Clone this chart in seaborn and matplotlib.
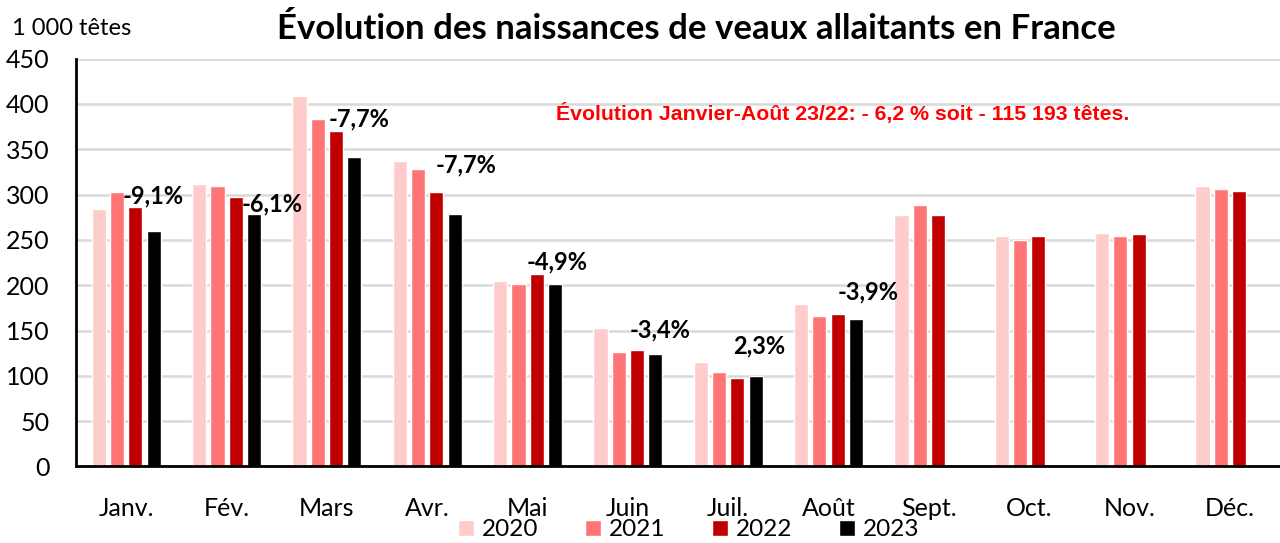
import numpy as np
import pandas as pd
import matplotlib
matplotlib.use('Agg')
import matplotlib.pyplot as plt
import seaborn as sns

# Données (1 000 têtes)
mois = ['Janv.', 'Fév.', 'Mars', 'Avr.', 'Mai', 'Juin', 'Juil.', 'Août', 'Sept.', 'Oct.', 'Nov.', 'Déc.']
annees = ['2020', '2021', '2022', '2023']
v2020 = [284, 312, 409, 337, 205, 153, 115, 179, 277, 254, 258, 309]
v2021 = [303, 310, 383, 328, 201, 126, 104, 166, 288, 250, 254, 306]
v2022 = [286, 297, 370, 303, 212, 129, 98, 168, 277, 254, 256, 304]
v2023 = [260, 279, 341, 279, 201, 124, 100, 163, np.nan, np.nan, np.nan, np.nan]
variations = ['-9,1%', '-6,1%', '-7,7%', '-7,7%', '-4,9%', '-3,4%', '2,3%', '-3,9%']

# placement des étiquettes de variation
hauteur_etiq = [299, 290, 383, 333, 226, 151, 133, 193]
decal_etiq = [0.27, 0.45, 0.32, 0.39, 0.30, 0.32, 0.31, 0.39]

couleurs = ['#FFCCCC', '#FF7575', '#C00000', '#000000']

df = pd.DataFrame({
    'MOIS': mois * 4,
    'ANNEE': np.repeat(annees, len(mois)),
    'VALEUR': v2020 + v2021 + v2022 + v2023,
})

sns.set_theme(style="white")
plt.rcParams['font.family'] = ['Lato', 'DejaVu Sans']
plt.rcParams['text.color'] = 'black'
plt.rcParams['xtick.color'] = 'black'
plt.rcParams['ytick.color'] = 'black'

fig = plt.figure(figsize=(12.8, 5.43), dpi=100)
ax = fig.add_axes([0.0594, 0.141, 0.9406, 0.751])

sns.barplot(data=df, x='MOIS', y='VALEUR', hue='ANNEE', order=mois, hue_order=annees,
            palette=couleurs, width=0.73, gap=0.22, saturation=1, ax=ax, errorbar=None)

ax.set_ylim(0, 450)
ax.set_xlim(-0.5, 11.5)
ax.set_yticks(range(0, 451, 50))
ax.set_xlabel('')
ax.set_ylabel('')
ax.grid(axis='y', color='#D9D9D9', linewidth=1.8)
ax.set_axisbelow(True)
for s in ['top', 'right']:
    ax.spines[s].set_visible(False)
for s in ['left', 'bottom']:
    ax.spines[s].set_color('black')
    ax.spines[s].set_linewidth(2)

# ticks x entre les catégories
ax.set_xticks(np.arange(-0.5, 12, 1), minor=False)
ax.set_xticklabels([''] * 13)
ax.set_xticks(np.arange(12), minor=True)
ax.set_xticklabels(mois, minor=True)
ax.tick_params(axis='x', which='major', direction='out', length=8, width=1.8, color='black')
ax.tick_params(axis='x', which='minor', length=0, pad=22, labelsize=18)
ax.tick_params(axis='y', direction='out', length=8, width=1.8, color='black', labelsize=18, pad=11)

# étiquettes de variation au-dessus des barres 2023
for i, (txt, h, d) in enumerate(zip(variations, hauteur_etiq, decal_etiq)):
    ax.text(i + d, h, txt, ha='center', va='center', fontsize=17, fontweight='bold', color='black')

ax.text(7.14, 390, 'Évolution Janvier-Août 23/22: - 6,2 % soit - 115 193 têtes.', ha='center', va='center',
        fontsize=15.3, fontweight='bold', color='#FF0000', family=['Liberation Sans', 'DejaVu Sans'])

fig.text(0.009, 0.948, '1 000 têtes', ha='left', va='center', fontsize=17)
fig.text(0.544, 0.946, 'Évolution des naissances de veaux allaitants en France', ha='center', va='center',
         fontsize=25, fontweight='bold')

leg = ax.legend(loc='center', bbox_to_anchor=(0.538, 0.024), bbox_transform=fig.transFigure, ncol=4,
                frameon=False, fontsize=17.5, handlelength=0.65, handleheight=0.65, handletextpad=0.35,
                columnspacing=1.9, borderpad=0)

fig.savefig('out.png', dpi=100)
